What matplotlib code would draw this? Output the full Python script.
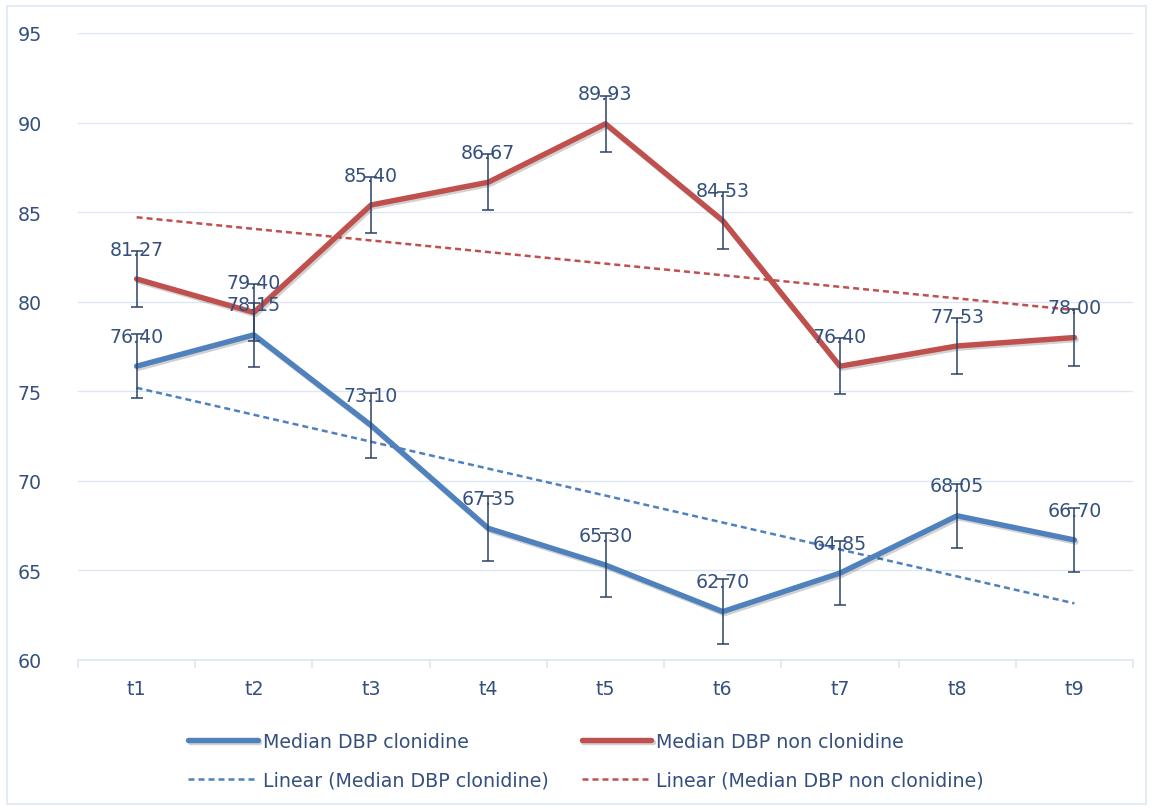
#!/usr/bin/env python3
"""Median DBP, clonidine vs non clonidine, with error bars and linear trends."""

import numpy as np
import matplotlib
matplotlib.use("Agg")
import matplotlib.pyplot as plt
import matplotlib.patheffects as pe
from matplotlib.patches import Rectangle

# data
times = ["t1", "t2", "t3", "t4", "t5", "t6", "t7", "t8", "t9"]
dbp_clonidine = [76.40, 78.15, 73.10, 67.35, 65.30, 62.70, 64.85, 68.05, 66.70]
dbp_non_clonidine = [81.27, 79.40, 85.40, 86.67, 89.93, 84.53, 76.40, 77.53, 78.00]
err_clonidine = [1.80] * 9
err_non_clonidine = [1.57] * 9
y_ticks = [60, 65, 70, 75, 80, 85, 90, 95]

BLUE = "#4F81BD"
RED = "#C0504D"
TEXT = "#35507E"
GRID = "#DCE6F4"
ERR = "#2B4266"
FS = 13.7

plt.rcParams["font.family"] = ["DejaVu Sans"]

fig = plt.figure(figsize=(11.53, 8.12), dpi=100)
ax = fig.add_axes([78 / 1153, 1 - 661 / 812, (1133 - 78) / 1153, (661 - 34) / 812])

x = np.arange(len(times))
shadow = [pe.SimpleLineShadow(offset=(1.2, -1.5), shadow_color="#000000", alpha=0.18),
          pe.Normal()]

series = [
    ("Median DBP clonidine", dbp_clonidine, err_clonidine, BLUE),
    ("Median DBP non clonidine", dbp_non_clonidine, err_non_clonidine, RED),
]

handles = []
for name, values, errs, color in series:
    line, = ax.plot(x, values, color=color, lw=3.9, solid_capstyle="round",
                    solid_joinstyle="round", path_effects=shadow, zorder=3,
                    label=name)
    ax.errorbar(x, values, yerr=errs, fmt="none", ecolor=ERR, elinewidth=1.1,
                capsize=4.6, capthick=1.1, zorder=4)
    for xi, v in zip(x, values):
        ax.annotate(f"{v:.2f}", (xi, v), xytext=(0, 21.5), textcoords="offset points",
                    ha="center", va="center", fontsize=FS, color=TEXT, zorder=5)
    slope, intercept = np.polyfit(x + 1, values, 1)
    trend, = ax.plot(x, slope * (x + 1) + intercept, color=color, lw=1.8,
                     dashes=(2.4, 1.6), zorder=2, label=f"Linear ({name})")
    handles.append((line, trend))

ax.set_xlim(-0.5, len(times) - 0.5)
ax.set_ylim(60, 95)
ax.set_yticks(y_ticks)
ax.set_xticks(x)
ax.set_xticklabels(times)
ax.set_xticks(np.arange(len(times) + 1) - 0.5, minor=True)
ax.grid(axis="y", color=GRID, lw=1.0, zorder=0)
ax.set_axisbelow(True)
for side in ("top", "right", "left"):
    ax.spines[side].set_visible(False)
ax.spines["bottom"].set_color(GRID)
ax.spines["bottom"].set_linewidth(1.2)
ax.tick_params(axis="y", length=0, pad=26, labelsize=FS, labelcolor=TEXT)
ax.tick_params(axis="x", which="major", length=0, pad=14, labelsize=FS,
               labelcolor=TEXT)
ax.tick_params(axis="x", which="minor", length=6, width=1.2, color=GRID)

order = [handles[0][0], handles[0][1], handles[1][0], handles[1][1]]
leg = fig.legend(order, [h.get_label() for h in order], ncol=2,
                 loc="center left", bbox_to_anchor=(171 / 1153, 1 - 762 / 812),
                 frameon=False, fontsize=FS, handlelength=3.65,
                 handletextpad=0.27, columnspacing=1.75, labelspacing=1.05,
                 labelcolor=TEXT)

fig.patches.append(Rectangle((7 / 1153, 7 / 812), 1 - 14 / 1153, 1 - 14 / 812,
                             transform=fig.transFigure, fill=False,
                             edgecolor=GRID, lw=1.2))

fig.savefig("out.png", dpi=100)
